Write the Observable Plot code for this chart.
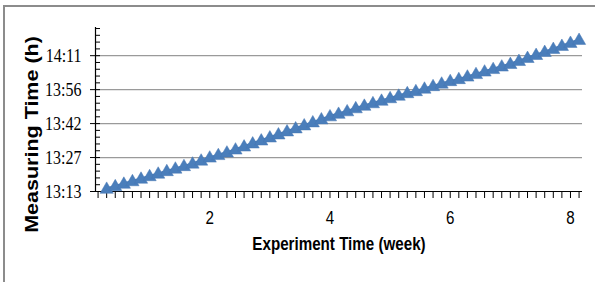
<!DOCTYPE html>
<html><head><meta charset="utf-8">
<script src="https://cdn.jsdelivr.net/npm/d3@7"></script>
<script src="https://cdn.jsdelivr.net/npm/@observablehq/plot@0.6"></script>
<style>
html,body{margin:0;padding:0;background:#fff;overflow:hidden;}
#wrap{position:relative;width:595px;height:282px;overflow:hidden;}
#frame{position:absolute;left:3px;top:5px;width:620px;height:300px;border:2px solid #8c8c8c;box-sizing:border-box;}
#chart{position:absolute;left:0;top:0;}
</style></head><body>
<div id="wrap"><div id="frame"></div><div id="chart"></div></div>
<script>
// Experiment day (x shown in weeks = day / 7)
const experimentDays = [2,3,4,5,6,7,8,9,10,11,12,13,14,15,16,17,18,19,20,21,22,23,24,25,26,27,28,29,30,31,32,33,34,35,36,37,38,39,40,41,42,43,44,45,46,47,48,49,50,51,52,53,54,55,56,57];
// Measuring time (clock time, h:mm:ss)
const measuringTime = ["13:14:17","13:15:22","13:16:26","13:17:30","13:18:34","13:19:38","13:20:42","13:21:46","13:22:50","13:23:54",
  "13:24:58","13:26:14","13:27:31","13:28:35","13:29:39","13:30:56","13:32:13","13:33:30","13:34:46","13:36:03",
  "13:37:20","13:38:37","13:39:54","13:41:10","13:42:27","13:43:44","13:45:01","13:46:05","13:47:09","13:48:26",
  "13:49:30","13:50:34","13:51:38","13:52:42","13:53:46","13:54:50","13:55:41","13:56:45","13:57:49","13:58:53",
  "13:59:57","14:00:48","14:01:52","14:02:56","14:04:00","14:05:04","14:06:08","14:07:12","14:08:29","14:09:46",
  "14:11:02","14:12:19","14:13:36","14:14:53","14:16:10","14:17:26"];
const xTickValues = [2, 4, 6, 8];
const yTickDayFractions = [0.551, 0.561, 0.571, 0.581, 0.591];
const yTickLabels = ["13:13", "13:27", "13:42", "13:56", "14:11"];
const xDomain = [0.1, 8.2];
const yDomain = [0.551, 0.5993];
const xTitle = "Experiment Time (week)";
const yTitle = "Measuring Time (h)";

const toDay = s => { const [h, m, sec] = s.split(":").map(Number); return (h * 3600 + m * 60 + sec) / 86400; };
const data = experimentDays.map((d, i) => ({week: d / 7, t: toDay(measuringTime[i])}));

const minorX = d3.range(1, 58).map(k => k / 7).filter(v => v >= xDomain[0] && v <= xDomain[1]);
const minorY = d3.range(0, 25).map(k => 0.551 + k * 0.002).filter(v => v <= yDomain[1] + 1e-9);

const blue = "#4A7EBB";
const chart = Plot.plot({
  width: 595, height: 282,
  marginLeft: 95, marginRight: 13, marginTop: 27, marginBottom: 91,
  x: {domain: xDomain, axis: null},
  y: {domain: yDomain, axis: null},
  style: {background: "transparent", overflow: "visible"},
  marks: [
    Plot.ruleY(yTickDayFractions.slice(1), {stroke: "#9a9a9a", strokeWidth: 1.2}),
    // y minor ticks (inside)
    Plot.axisY({ticks: minorY, tickSize: 5, dx: 5, fill: "none", label: null, stroke: "#000", strokeOpacity: 1}),
    // y major ticks (crossing)
    Plot.axisY({ticks: yTickDayFractions, tickSize: 6, dx: 1, fill: "none", label: null, stroke: "#000", strokeOpacity: 1}),
    Plot.axisY({ticks: yTickDayFractions, tickSize: 0, tickPadding: 14, label: null, stroke: "none",
      tickFormat: d => yTickLabels[yTickDayFractions.indexOf(d)],
      fontSize: 19.5, fontFamily: "'Liberation Serif', 'Times New Roman', serif", fill: "#000"}),
    Plot.axisX({ticks: minorX, tickSize: 7, fill: "none", label: null, stroke: "#000", strokeOpacity: 1}),
    Plot.axisX({ticks: xTickValues, tickSize: 0, tickPadding: 19, label: null, stroke: "none", tickFormat: d => String(d),
      fontSize: 18.5, fontFamily: "'Liberation Sans', Arial, sans-serif", fill: "#000"}),
    Plot.ruleY([yDomain[0]], {stroke: "#000", strokeWidth: 1.2}),
    Plot.ruleX([xDomain[0]], {stroke: "#000", strokeWidth: 1.2}),
    Plot.line(data, {x: "week", y: "t", stroke: blue, strokeWidth: 4}),
    Plot.dot(data, {x: "week", y: "t", symbol: "triangle", r: 4.9, fill: blue, stroke: "#4677b3", strokeWidth: 0.5}),
    Plot.text([xTitle], {frameAnchor: "bottom", dy: 53, lineAnchor: "middle", textAnchor: "middle", fontSize: 18.5, fontWeight: "bold",
      fontFamily: "'Liberation Sans', Arial, sans-serif", fill: "#000"}),
    Plot.text([yTitle], {frameAnchor: "left", dx: -63, dy: 25, rotate: -90, textAnchor: "middle", lineAnchor: "middle", fontSize: 21.5, fontWeight: "bold",
      fontFamily: "'Liberation Sans', Arial, sans-serif", fill: "#000"})
  ]
});
document.getElementById("chart").appendChild(chart);

// Horizontal compression of all text, as in the reference image; serif face for y tick labels
chart.querySelectorAll("text").forEach(t => {
  if (yTickLabels.includes(t.textContent)) t.style.fontFamily = "'Liberation Serif', 'Times New Roman', serif";
  const tr = t.getAttribute("transform");
  if (tr && tr.includes("translate")) {
    t.setAttribute("transform", tr + (tr.includes("rotate(-90") ? " scale(1,0.82)" : " scale(0.82,1)"));
  } else {
    const x = +t.getAttribute("x") || 0, y = +t.getAttribute("y") || 0;
    t.setAttribute("transform", `translate(${x},${y}) scale(0.82,1) translate(${-x},${-y})`);
  }
});
</script>
</body></html>
